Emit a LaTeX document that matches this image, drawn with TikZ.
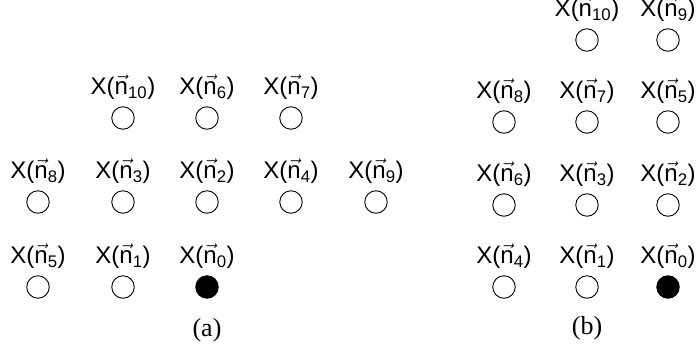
\documentclass[tikz,border=0pt]{standalone}
\usepackage{fontspec}
\setmainfont{Liberation Sans}
\newfontfamily\capfont{Liberation Serif}
\newcommand{\lbl}[1]{X($\vec{\hbox{n}}$\textsubscript{#1})}
\tikzset{
  ring/.style={circle, draw, line width=0.9pt, minimum size=22.5pt, inner sep=0pt},
  dot/.style={ring, fill=black},
  lab/.style={font=\fontsize{24}{28}\selectfont, inner sep=0pt, anchor=center},
  captext/.style={font=\capfont\fontsize{26}{30}\selectfont, inner sep=0pt}
}
\begin{document}
\begin{tikzpicture}[x=1pt,y=-1pt]
\useasboundingbox (0,0) rectangle (699,354);
% (a)
\foreach \nm/\px/\py/\sub in {a10/123/118/10, a6/207/118/6, a7/291/118/7,
  a8/38/202/8, a3/123/202/3, a2/207/202/2, a4/291/202/4, a9/376/202/9,
  a5/38/287/5, a1/123/287/1}{
  \node[ring] (\nm) at (\px,\py) {};
  \node[lab] (l\nm) at (\px,\py-31) {\lbl{\sub}};
}
\node[dot] (a0) at (207,287) {};
\node[lab] (la0) at (207,256) {\lbl{0}};
\node[captext] (capa) at (207,330) {(a)};
% (b)
\foreach \nm/\px/\py/\sub in {b10/587/40/10, b9/668/40/9,
  b8/504/122/8, b7/587/122/7, b5/668/122/5,
  b6/504/205/6, b3/587/205/3, b2/668/205/2,
  b4/504/287/4, b1/587/287/1}{
  \node[ring] (\nm) at (\px,\py) {};
  \node[lab] (l\nm) at (\px,\py-31) {\lbl{\sub}};
}
\node[dot] (b0) at (668,287) {};
\node[lab] (lb0) at (668,256) {\lbl{0}};
\node[captext] (capb) at (587,328) {(b)};
\end{tikzpicture}
\end{document}
